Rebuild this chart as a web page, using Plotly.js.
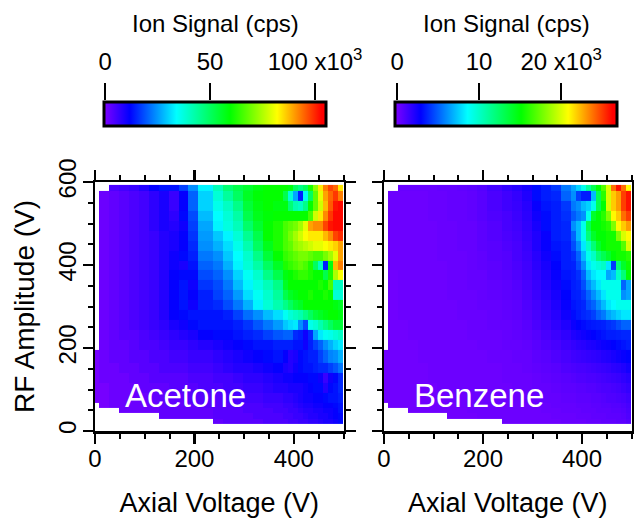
<!DOCTYPE html>
<html><head><meta charset="utf-8">
<script src="https://cdn.plot.ly/plotly-3.0.1.min.js"></script>
<style>html,body{margin:0;padding:0;background:#fff}</style></head>
<body><div id="chart" style="width:634px;height:519px"></div>
<script>
const N = null;
const axialEdges = [0,8,28,48,68,88,108,128,148,168,188,208,238,258,278,298,318,338,358,378,388,398,408,418,428,438,448,458,468,478,488,498];
const rfEdgesTopDown = [593,579,555,531,507,483,459,435,411,387,363,339,315,291,267,243,219,195,163,139,115,91,67,55,43,30,18];
const acetone = [
[N,N,4,5,6,8,11,13,13,17,24,33,41,48,52,55,58,60,60,60,58,50,46,50,62,72,84,93,98,95,84],
[N,1,2,3,4,5,7,9,6,11,20,30,38,44,50,56,59,60,60,52,38,26,14,35,50,68,80,90,95,99,93],
[N,1,2,3,4,5,7,9,6,11,20,30,36,40,46,54,58,60,58,58,48,42,40,46,60,68,78,88,96,102,103],
[N,1,2,3,4,5,7,9,7,12,18,28,34,38,43,52,57,59,60,60,60,60,60,60,66,78,84,92,99,103,103],
[N,1,2,3,4,5,7,9,8,10,17,26,33,37,41,49,55,60,62,66,68,70,74,80,90,92,92,98,102,103,103],
[N,1,2,3,4,5,6,8,9,11,16,25,29,33,38,45,52,60,62,66,70,74,78,82,84,84,84,88,92,98,100],
[N,1,2,3,4,5,6,8,9,11,15,24,27,31,36,42,50,57,62,66,68,72,74,76,78,80,80,82,84,86,90],
[N,1,2,3,4,5,6,8,10,12,14,22,24,29,34,39,46,54,60,64,66,68,70,70,68,66,66,70,74,80,90],
[N,1,2,3,4,5,6,8,10,9,13,20,22,27,33,38,43,50,56,62,64,66,68,66,62,50,40,14,58,88,93],
[N,1,2,3,4,5,6,8,11,12,12,18,20,24,30,35,39,46,52,58,60,62,64,64,62,60,60,52,62,75,82],
[N,1,2,3,4,5,6,8,11,13,10,16,18,22,28,33,37,41,46,56,60,60,60,60,60,60,62,60,66,40,40],
[N,1,2,3,4,5,6,8,11,13,11,14,17,20,25,31,35,39,44,52,56,58,60,60,62,60,60,62,60,38,38],
[N,1,2,3,4,5,6,8,11,13,10,14,15,18,22,27,33,38,42,46,50,54,56,60,60,60,60,60,60,58,56],
[N,1,2,3,4,5,6,8,11,12,13,13,13,14,17,21,24,28,31,35,38,40,42,46,50,54,56,58,60,60,58],
[N,1,2,3,4,5,6,7,9,10,12,13,13,13,14,16,19,22,25,29,31,32,24,18,36,38,42,46,50,54,54],
[N,1,2,3,3,4,5,6,7,8,9,11,12,12,13,14,15,17,19,20,20,15,14,10,15,26,32,35,36,38,40],
[N,1,2,2,3,4,4,5,6,6,7,8,9,10,11,12,13,13,14,14,14,13,13,10,14,17,20,24,27,30,32],
[0,1,2,2,3,3,4,4,5,5,6,6,7,8,9,10,11,12,13,11,8,9,12,13,14,14,17,20,23,24,27],
[0,1,1,2,2,3,3,4,4,4,5,5,6,7,8,8,9,10,11,9,8,10,12,13,13,14,15,15,17,19,22],
[0,1,1,1,2,2,3,3,3,3,4,4,5,5,6,7,7,8,9,10,10,11,11,11,12,12,10,6,10,12,15],
[0,0,1,1,1,2,2,2,3,3,3,4,4,5,5,6,6,7,8,8,9,9,9,10,11,12,12,8,12,13,15],
[0,0,1,1,1,1,2,2,2,2,3,3,3,4,4,5,5,6,6,7,7,8,9,10,10,11,11,12,13,13,14],
[N,0,1,1,1,1,1,2,2,2,2,3,3,3,4,4,4,5,5,6,6,7,8,9,9,10,10,11,11,12,13],
[N,N,N,1,1,1,1,2,2,2,2,2,3,3,3,4,4,4,5,5,6,6,7,8,8,9,9,10,10,11,13],
[N,N,N,N,N,N,N,2,2,2,2,2,3,3,3,3,4,4,4,5,5,6,6,7,8,8,9,9,10,11,12],
[N,N,N,N,N,N,N,N,N,N,N,N,2,3,3,3,3,4,4,4,5,5,6,6,7,7,8,9,9,10,12]
];
const benzene = [
[N,N,.2,.2,.2,.2,.3,.3,.4,.5,.7,1.1,1.5,1.8,2.2,3,3.4,4,5.5,6.5,7.5,9,11,13,15,17,20,24,26,24,21],
[N,.1,.1,.1,.1,.2,.2,.3,.3,.4,.6,.9,1.2,1.5,2,3,3.4,3.6,5,6,4.2,3.4,3.4,7,13,16,20,22,23,25,26],
[N,.1,.1,.1,.1,.2,.2,.3,.3,.4,.6,.9,1.2,1.4,1.8,2.6,3.2,3.4,4,5.5,6,7,7.5,9,13,15,20,22,23,25,26],
[N,.1,.1,.1,.1,.2,.2,.3,.3,.4,.6,.8,1,1.3,1.7,2.4,3,3.4,3.8,4.8,5.5,6,9,14,15,16,18,21,22,24,25],
[N,.1,.1,.1,.1,.1,.2,.2,.3,.3,.5,.7,1,1.2,1.6,2.2,3,3.4,3.6,6,7,9,13,15,15,15.5,16,18,21,22,23],
[N,.1,.1,.1,.1,.1,.2,.2,.3,.3,.5,.7,.9,1.1,1.5,2,2.6,3.4,3.6,5,7,9,12,14,15,15,15.5,15.5,18,20,21],
[N,.1,.1,.1,.1,.1,.2,.2,.3,.3,.5,.6,.8,1,1.4,2,2.6,3.2,3.4,4.5,6,8,10,12,14,15,15.5,15.5,15.5,17,20],
[N,.1,.1,.1,.1,.1,.2,.2,.2,.3,.4,.6,.7,1,1.3,1.8,2.4,3,3.4,3.8,5,7,9,10,12,13,14,15,15.5,15.5,16],
[N,.1,.1,.1,.1,.1,.1,.2,.2,.3,.4,.5,.7,.9,1.2,1.7,2.2,2.8,3.4,3.5,4.5,6,8,9,9.5,10,8,4,12,14,15.4],
[N,0,.1,.1,.1,.1,.1,.2,.2,.3,.3,.5,.6,.8,1.1,1.5,2,2.6,3.2,3.4,3.8,5,7,8,8.5,8.5,6.5,7,10,12,15],
[N,0,.1,.1,.1,.1,.1,.2,.2,.3,.3,.4,.5,.7,1,1.4,1.9,2.4,3,3.4,3.6,4.5,6,7,8,9,9,9,9,5,6.5],
[N,0,.1,.1,.1,.1,.1,.2,.2,.2,.3,.4,.5,.6,.9,1.3,1.7,2.2,2.8,3.4,3.5,4,5,6,7,8,9,9,9,6,6.5],
[N,0,.1,.1,.1,.1,.1,.1,.2,.2,.3,.3,.4,.5,.8,1.1,1.5,2,2.6,3.2,3.4,3.6,4.5,5,6,7,8,8.5,9,9,9],
[N,0,.1,.1,.1,.1,.1,.1,.2,.2,.2,.3,.4,.5,.7,1,1.4,1.8,2.4,3,3.3,3.6,3.8,4.2,5,5.5,6.5,7,7.5,8,8],
[N,0,0,.1,.1,.1,.1,.1,.1,.2,.2,.3,.3,.4,.6,.9,1.2,1.6,2,2.5,2.8,3,3.2,3.3,3.4,3.5,3.8,4,4.5,5,5],
[N,0,0,.1,.1,.1,.1,.1,.1,.2,.2,.2,.3,.4,.5,.7,1,1.3,1.6,2,2.2,2.4,2.6,2.8,3,3.2,3.4,3.4,3.5,3.6,3.6],
[N,0,0,0,.1,.1,.1,.1,.1,.1,.2,.2,.3,.3,.4,.6,.8,1,1.3,1.5,1.7,1.8,2,2.1,2.3,2.5,2.6,2.8,3,3.2,3.4],
[0,0,0,0,.1,.1,.1,.1,.1,.1,.1,.2,.2,.3,.3,.5,.6,.8,1,1.2,1.3,1.4,1.5,1.6,1.7,1.9,2,2.2,2.4,2.6,2.8],
[0,0,0,0,0,.1,.1,.1,.1,.1,.1,.1,.2,.2,.3,.4,.5,.6,.8,.9,1,1,1.1,1.2,1.3,1.4,1.5,1.7,1.8,2,2.3],
[0,0,0,0,0,.1,.1,.1,.1,.1,.1,.1,.2,.2,.2,.3,.4,.5,.6,.7,.8,.8,.9,.9,1,1.1,1.2,1.3,1.4,1.6,1.8],
[0,0,0,0,0,0,.1,.1,.1,.1,.1,.1,.1,.2,.2,.3,.3,.4,.5,.5,.6,.6,.7,.7,.8,.9,.9,1,1.1,1.3,1.5],
[0,0,0,0,0,0,0,.1,.1,.1,.1,.1,.1,.1,.2,.2,.3,.3,.4,.4,.5,.5,.5,.6,.6,.7,.8,.8,.9,1,1.2],
[N,0,0,0,0,0,0,0,.1,.1,.1,.1,.1,.1,.1,.2,.2,.3,.3,.3,.4,.4,.4,.5,.5,.6,.6,.7,.7,.8,1],
[N,N,N,0,0,0,0,0,0,.1,.1,.1,.1,.1,.1,.1,.2,.2,.3,.3,.3,.4,.4,.4,.5,.5,.5,.6,.6,.7,.9],
[N,N,N,N,N,N,N,0,0,0,.1,.1,.1,.1,.1,.1,.1,.2,.2,.2,.3,.3,.3,.4,.4,.4,.5,.5,.5,.6,.8],
[N,N,N,N,N,N,N,N,N,N,N,N,.1,.1,.1,.1,.1,.1,.2,.2,.2,.2,.3,.3,.3,.4,.4,.4,.5,.5,.7]
];
const acetoneTicks = [0,50,100];
const acetoneLabels = ['0','50','100 x10<sup>3</sup>'];
const benzeneTicks = [0,10,20];
const benzeneLabels = ['0','10','20 x10<sup>3</sup>'];
const xTicks = [0,200,400];
const yTicks = [0,200,400,600];

const rainbow = [[0,'rgb(128,0,255)'],[.116,'rgb(0,0,255)'],[.327,'rgb(0,255,255)'],[.568,'rgb(0,255,0)'],[.78,'rgb(255,255,0)'],[.98,'rgb(255,0,0)'],[1,'rgb(255,0,0)']];
const font = 'Liberation Sans, Arial, sans-serif';
const W = 634, H = 519;
const rfEdges = rfEdgesTopDown.slice().reverse();
const up = m => m.slice().reverse();

function bar(cx){
  return {orientation:'h', thickness:24, thicknessmode:'pixels', len:222, lenmode:'pixels',
    x:cx/W, xanchor:'center', y:1-101.5/H, yanchor:'top', xpad:0, ypad:0,
    ticks:'', showticklabels:false, outlinewidth:3, outlinecolor:'#000'};
}
const tickFont = {family:font,size:24,color:'#000'};
const traces = [
 {type:'heatmap', x:axialEdges, y:rfEdges, z:up(acetone), xaxis:'x', yaxis:'y', colorscale:rainbow, zmin:-1, zmax:105.7, zsmooth:false, hoverongaps:false, colorbar:bar(215)},
 {type:'heatmap', x:axialEdges, y:rfEdges, z:up(benzene), xaxis:'x2', yaxis:'y2', colorscale:rainbow, zmin:-.4, zmax:26.9, zsmooth:false, hoverongaps:false, colorbar:bar(506)},
 {type:'scatter', mode:'markers', x:acetoneTicks, y:[0,0,0], xaxis:'x3', yaxis:'y3', marker:{opacity:0}, hoverinfo:'skip'},
 {type:'scatter', mode:'markers', x:benzeneTicks, y:[0,0,0], xaxis:'x4', yaxis:'y4', marker:{opacity:0}, hoverinfo:'skip'}
];
function axis(dom, ticks, extra){
  return Object.assign({domain:dom, tickmode:'array', tickvals:ticks, ticks:'outside', ticklen:10, tickwidth:2.5, tickcolor:'#000',
    showline:true, mirror:'ticks', linewidth:2.5, linecolor:'#000', showgrid:false, zeroline:false,
    minor:{dtick:50, ticks:'outside', ticklen:5, tickwidth:2, tickcolor:'#000', showgrid:false},
    tickfont:tickFont}, extra);
}
function barAxis(dom, range, ticks, labels, anchor){
  return {domain:dom, range:range, anchor:anchor, side:'top', tickmode:'array', tickvals:ticks, ticktext:labels, ticks:'outside', ticklen:17, tickwidth:2.5, tickcolor:'#000', showline:false, showgrid:false, zeroline:false, tickfont:tickFont, ticklabelstandoff:3};
}
function hiddenAxis(anchor){
  return {domain:[1-125/H,1-101/H], range:[-1,1], anchor:anchor, visible:false, fixedrange:true};
}
const titleFont = {family:font,size:27,color:'#000'};
const layout = {
 width:W, height:H, margin:{l:0,r:0,t:0,b:0}, paper_bgcolor:'#fff', plot_bgcolor:'#fff', showlegend:false,
 xaxis: axis([95/W,343.5/W],xTicks,{range:[0,500],anchor:'y',ticklabelstandoff:-5,title:{text:'Axial Voltage (V)',font:titleFont,standoff:22}}),
 yaxis: axis([1-431/H,1-182/H],yTicks,{range:[0,600],anchor:'x',tickangle:-90,ticklabelstandoff:-3,title:{text:'RF Amplitude (V)',font:{family:font,size:28,color:'#000'},standoff:11}}),
 xaxis2: axis([384/W,631.5/W],xTicks,{range:[0,500],anchor:'y2',ticklabelstandoff:-5,title:{text:'Axial Voltage (V)',font:titleFont,standoff:22}}),
 yaxis2: axis([1-431/H,1-182/H],yTicks,{range:[0,600],anchor:'x2',showticklabels:false}),
 xaxis3: barAxis([104/W,326/W],[-.5,105.2],acetoneTicks,acetoneLabels,'y3'),
 yaxis3: hiddenAxis('x3'),
 xaxis4: barAxis([395/W,617/W],[-.25,26.8],benzeneTicks,benzeneLabels,'y4'),
 yaxis4: hiddenAxis('x4'),
 annotations:[
  {text:'Ion Signal (cps)',xref:'paper',yref:'paper',x:215/W,y:1-24/H,xanchor:'center',yanchor:'middle',showarrow:false,font:{family:font,size:24,color:'#000'}},
  {text:'Ion Signal (cps)',xref:'paper',yref:'paper',x:506/W,y:1-24/H,xanchor:'center',yanchor:'middle',showarrow:false,font:{family:font,size:24,color:'#000'}},
  {text:'Acetone',xref:'paper',yref:'paper',x:185/W,y:1-395/H,xanchor:'center',yanchor:'middle',showarrow:false,font:{family:font,size:33,color:'#fff'}},
  {text:'Benzene',xref:'paper',yref:'paper',x:479/W,y:1-395/H,xanchor:'center',yanchor:'middle',showarrow:false,font:{family:font,size:33,color:'#fff'}}
 ]
};
Plotly.newPlot('chart',traces,layout,{displayModeBar:false,staticPlot:true});
</script></body></html>
